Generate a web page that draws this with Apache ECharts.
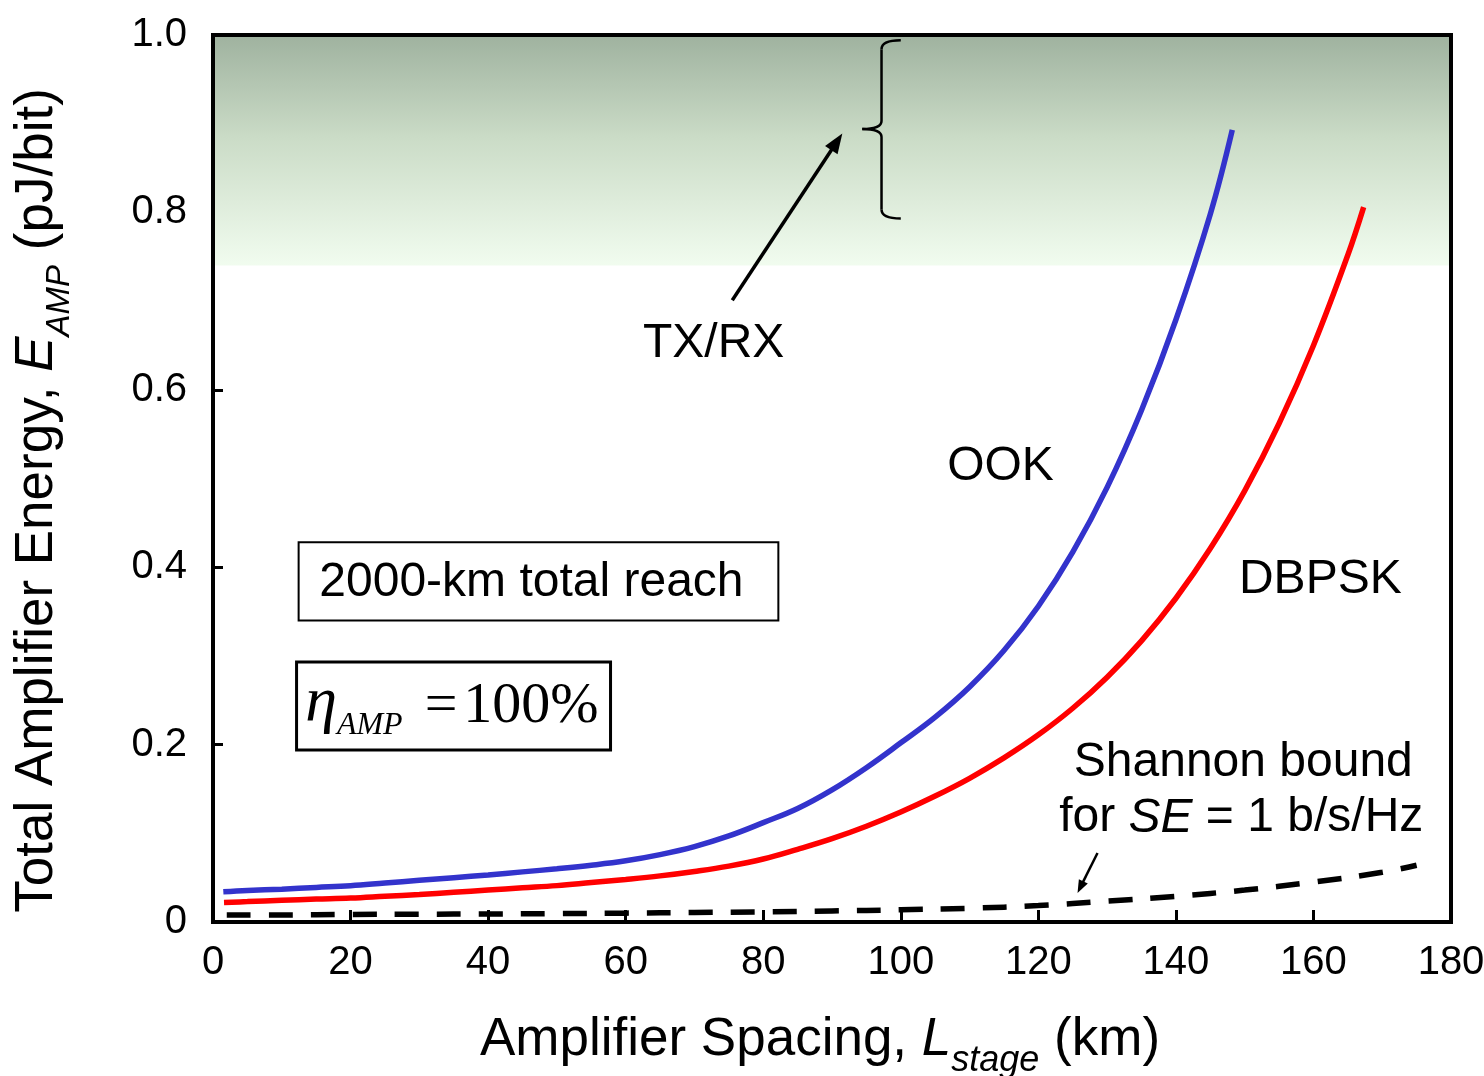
<!DOCTYPE html>
<html><head><meta charset="utf-8">
<script src="https://cdn.jsdelivr.net/npm/echarts@6/dist/echarts.min.js"></script>
<style>html,body{margin:0;padding:0;background:#fff}#c{width:1484px;height:1076px}</style>
</head><body><div id="c"></div>
<script>
// ---- data ----
const xTicks = [0, 20, 40, 60, 80, 100, 120, 140, 160, 180];
const yTicks = [0, 0.2, 0.4, 0.6, 0.8, 1.0];
const ookX = [1.5, 5, 10, 15, 20, 25, 30, 35, 40, 45, 50, 55, 60, 65, 70, 75, 80, 85, 90, 95, 100, 105, 110, 115, 120, 125, 130, 135, 140, 145, 148.2];
const ookY = [0.034, 0.0355, 0.037, 0.039, 0.041, 0.044, 0.047, 0.050, 0.053, 0.0565, 0.060, 0.064, 0.069, 0.076, 0.085, 0.097, 0.112, 0.128, 0.149, 0.174, 0.202, 0.231, 0.265, 0.306, 0.356, 0.417, 0.490, 0.577, 0.679, 0.798, 0.893];
const dbpskX = [1.6, 5, 10, 15, 20, 25, 30, 35, 40, 45, 50, 55, 60, 65, 70, 75, 80, 85, 90, 95, 100, 105, 110, 115, 120, 125, 130, 135, 140, 145, 150, 155, 160, 165, 167.3];
const dbpskY = [0.022, 0.023, 0.0245, 0.0258, 0.027, 0.029, 0.031, 0.0335, 0.036, 0.0385, 0.041, 0.0445, 0.048, 0.052, 0.057, 0.063, 0.071, 0.082, 0.094, 0.108, 0.124, 0.142, 0.162, 0.185, 0.211, 0.241, 0.276, 0.317, 0.365, 0.421, 0.486, 0.562, 0.650, 0.752, 0.806];
const shannonX = [2, 10, 20, 30, 40, 50, 60, 70, 80, 90, 100, 110, 120, 130, 140, 150, 160, 170, 175];
const shannonY = [0.008, 0.008, 0.0085, 0.0088, 0.009, 0.0095, 0.010, 0.0107, 0.0115, 0.0125, 0.0138, 0.0155, 0.0185, 0.0235, 0.029, 0.036, 0.045, 0.056, 0.064];
const txrxBand = [0.74, 1.0];
const seriesNames = ['OOK', 'DBPSK', 'Shannon bound'];

const zip = (xs, ys) => xs.map((x, i) => [x, ys[i]]);
const SANS = "'Liberation Sans', Arial, sans-serif";
const SERIF = "'Liberation Serif', 'Times New Roman', serif";

const chart = echarts.init(document.getElementById('c'), null, {renderer: 'canvas'});
const nameRich = (fs, sub) => ({
  n: {fontSize: fs, fontFamily: SANS, color: '#000', verticalAlign: 'bottom', padding: [0, 0, 12, 0]},
  i: {fontSize: fs, fontFamily: SANS, fontStyle: 'italic', color: '#000', verticalAlign: 'bottom', padding: [0, 0, 12, 0]},
  s: {fontSize: sub, fontFamily: SANS, fontStyle: 'italic', color: '#000', verticalAlign: 'bottom'}
});
const option = {
  animation: false,
  backgroundColor: '#fff',
  grid: {left: 213, right: 33, top: 35, bottom: 154, show: false, outerBoundsMode: 'none', containLabel: false},
  xAxis: {
    type: 'value', min: xTicks[0], max: xTicks[xTicks.length - 1], interval: 20,
    axisLine: {show: false},
    axisTick: {show: true, inside: true, length: 12, lineStyle: {color: '#000', width: 3}},
    splitLine: {show: false},
    axisLabel: {fontSize: 40, color: '#000', fontFamily: SANS, margin: 21},
    name: '{n|Amplifier Spacing, }{i|L}{s|stage}{n| (km)}',
    nameLocation: 'middle', nameGap: 92,
    nameTextStyle: {fontSize: 53, color: '#000', fontFamily: SANS, padding: [0, 24, 0, 0], rich: nameRich(53, 36)}
  },
  yAxis: {
    type: 'value', min: yTicks[0], max: yTicks[yTicks.length - 1], interval: 0.2,
    axisLine: {show: false},
    axisTick: {show: true, inside: true, length: 10, lineStyle: {color: '#000', width: 3}},
    splitLine: {show: false},
    axisLabel: {fontSize: 40, color: '#000', fontFamily: SANS, margin: 26,
      formatter: v => (v === 0 ? '0' : v.toFixed(1))},
    name: '{n|Total Amplifier Energy, }{i|E}{s|AMP}{n| (pJ/bit)}',
    nameLocation: 'middle', nameGap: 137,
    nameTextStyle: {fontSize: 53, color: '#000', fontFamily: SANS, padding: [0, 44, 0, 0], rich: nameRich(53, 33)}
  },
  series: [
    {
      name: seriesNames[2], type: 'line', data: zip(shannonX, shannonY), showSymbol: false, smooth: 0.4,
      lineStyle: {color: '#000', width: 5.5, type: [24, 18], cap: 'butt'},
      markArea: {
        silent: true,
        itemStyle: {color: new echarts.graphic.LinearGradient(0, 0, 0, 1, [
          {offset: 0, color: '#9fb29f'}, {offset: 0.45, color: '#cbdcc7'}, {offset: 1, color: '#f1fcef'}])},
        data: [[{yAxis: txrxBand[0]}, {yAxis: txrxBand[1]}]]
      }
    },
    {name: seriesNames[1], type: 'line', data: zip(dbpskX, dbpskY), showSymbol: false, smooth: 0.4,
      lineStyle: {color: '#ff0000', width: 5.5}},
    {name: seriesNames[0], type: 'line', data: zip(ookX, ookY), showSymbol: false, smooth: 0.4,
      lineStyle: {color: '#3333cc', width: 5.5}}
  ]
};
chart.setOption(option);

// ---- annotations, placed in data coordinates ----
const P = (x, y) => chart.convertToPixel({gridIndex: 0}, [x, y]);
function arrow(a, b, w, hl, hw) {
  const dx = b[0] - a[0], dy = b[1] - a[1], L = Math.hypot(dx, dy), ux = dx / L, uy = dy / L;
  const bx = b[0] - ux * hl, by = b[1] - uy * hl, nx = -uy, ny = ux;
  return [
    {type: 'line', z: 50, shape: {x1: a[0], y1: a[1], x2: bx + ux * 2, y2: by + uy * 2}, style: {stroke: '#000', lineWidth: w}},
    {type: 'polygon', z: 50, shape: {points: [b, [bx + nx * hw / 2, by + ny * hw / 2], [bx - nx * hw / 2, by - ny * hw / 2]]}, style: {fill: '#000'}}
  ];
}
function text(x, y, str, extra) {
  const p = P(x, y);
  return {type: 'text', z: 50, style: Object.assign({text: str, x: p[0], y: p[1], fill: '#000',
    font: '48px ' + SANS, align: 'center', verticalAlign: 'middle'}, extra || {})};
}
function box(x0, y0, x1, y1, lw) {
  const a = P(x0, y0), b = P(x1, y1);
  return {type: 'rect', z: 50, shape: {x: a[0], y: a[1], width: b[0] - a[0], height: b[1] - a[1]},
    style: {fill: null, stroke: '#000', lineWidth: lw}};
}
const seg = (x1, y1, x2, y2, w) => ({type: 'line', z: 50, shape: {x1, y1, x2, y2}, style: {stroke: '#000', lineWidth: w}});
const bez = (x1, y1, cx, cy, x2, y2, w) => ({type: 'bezierCurve', z: 50,
  shape: {x1, y1, cpx1: cx, cpy1: cy, x2, y2}, style: {stroke: '#000', lineWidth: w, fill: null}});

const tl = P(0, 1), br = P(180, 0);
const g = [];
// frame
g.push({type: 'rect', z: 60, shape: {x: tl[0], y: tl[1], width: br[0] - tl[0], height: br[1] - tl[1]},
  style: {fill: null, stroke: '#000', lineWidth: 4}});
// TX/RX brace
const bT = P(100, 0.994), bS = P(97.2, 0.894), bTip = P(94.4, 0.894), bB = P(100, 0.793);
const sx = bS[0], bw = 2.5;
g.push(bez(bT[0], bT[1], sx, bT[1], sx, bT[1] + 9, bw));
g.push(seg(sx, bT[1] + 9, sx, bS[1] - 8, bw));
g.push(bez(sx, bS[1] - 8, sx, bS[1], bTip[0], bS[1], bw));
g.push(bez(bTip[0], bS[1], sx, bS[1], sx, bS[1] + 8, bw));
g.push(seg(sx, bS[1] + 8, sx, bB[1] - 9, bw));
g.push(bez(sx, bB[1] - 9, sx, bB[1], bB[0], bB[1], bw));
g.push(...arrow(P(75.5, 0.701), P(91.5, 0.889), 3.5, 20, 15));
g.push(text(72.8, 0.652, 'TX/RX'));
g.push(text(114.5, 0.513, 'OOK'));
g.push(text(161, 0.386, 'DBPSK'));
g.push(text(149.8, 0.180, 'Shannon bound'));
g.push(text(149.5, 0.117, '{n|for }{i|SE}{n| = 1 b/s/Hz}', {rich: {
  n: {fontSize: 48, fontFamily: SANS, fill: '#000'},
  i: {fontSize: 48, fontFamily: SANS, fontStyle: 'italic', fill: '#000'}}}));
g.push(...arrow(P(128.6, 0.0778), P(125.7, 0.0327), 2.5, 13, 10));
// boxes
g.push(box(12.45, 0.428, 82.2, 0.340, 2));
g.push(text(46.3, 0.382, '2000-km total reach'));
g.push(box(12.15, 0.293, 57.8, 0.194, 3));
const et = P(13.4, 0.243);
g.push({type: 'text', z: 50, style: {x: et[0], y: et[1], align: 'left', verticalAlign: 'middle',
  text: '{g|η}{s|AMP}{e|=}{n|100%}', rich: {
    g: {fontSize: 64, fontFamily: SERIF, fontStyle: 'italic', fill: '#000', verticalAlign: 'bottom', padding: [0, 0, 6, 0]},
    s: {fontSize: 32, fontFamily: SERIF, fontStyle: 'italic', fill: '#000', verticalAlign: 'bottom'},
    e: {fontSize: 58, fontFamily: SERIF, fill: '#000', verticalAlign: 'bottom', padding: [0, 6, 6, 22]},
    n: {fontSize: 58, fontFamily: SERIF, fill: '#000', verticalAlign: 'bottom', padding: [0, 0, 6, 0]}
  }}});
chart.setOption({graphic: {elements: g}});
</script></body></html>
